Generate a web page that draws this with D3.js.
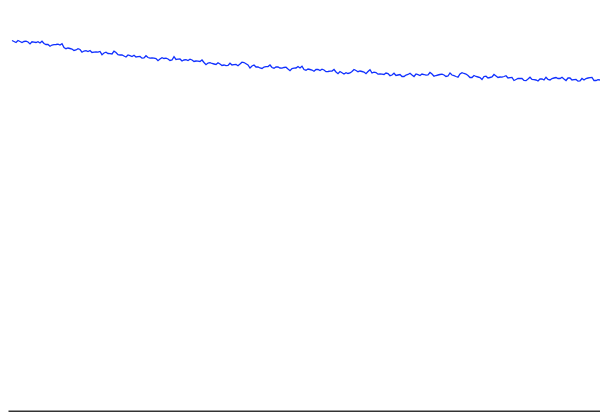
<!DOCTYPE html>
<html><head><meta charset="utf-8">
<script src="https://cdn.jsdelivr.net/npm/d3@7"></script>
<style>html,body{margin:0;padding:0;background:#fff;}svg{display:block;}</style>
</head><body>
<svg id="chart" width="600" height="414"></svg>
<script>
const values = [369.5,368.5,367.5,369.5,368.5,367.5,368.5,368.8,368,366.1,368.2,367.9,367.5,368.3,367,368.8,366.5,365.5,365.5,363.8,
365,365.3,365.5,365.8,365,366.3,362.5,361.3,362,361.5,361,359.5,360,361.3,360.5,357.8,359,359.3,358.5,359.5,
357.5,357.8,358,357.8,358.5,355.3,357,357.8,356.5,356.3,356,358.8,357.5,355.3,355,355,354,353,355,354.3,
353.5,354.8,353,353.3,353.5,351.8,352,354.3,352.5,351.8,352,351.8,351.5,349.3,351,352.3,351.5,351.8,351,349.5,
350,353.3,350.5,350.8,351,349,350,350.3,349.5,350.8,350,348.5,349,348.8,348.5,350,347.5,345.3,347,347.3,
346.5,346,345.5,347.3,346,344.5,345,344.3,344.5,346.8,345,345.3,345.5,344.3,346,347.8,347.5,346.3,345,342,
344,345,343,343,342,341.5,343,343.3,343.5,345,342.5,341.8,343,343,342,341.8,342.5,342.8,341,339.3,
341.5,341.8,342,343.5,342,343.8,340.5,339.8,341,340.5,340,338.8,340.5,340.5,339.5,340.8,340,338.3,338.5,338.8,
339,340.5,338,336.3,338.5,337.3,336,337.3,336.5,337,338.5,340.5,339.5,338.3,339,338.5,338,336.3,338.5,340.3,
337,337.8,337.5,335.8,336,335.8,335.5,337,336.5,334.3,335,336.8,334.5,335,335.5,333.5,333.5,335,335.5,336.8,
335,333.5,336,335.3,334.5,336,335.5,334.8,335,337.5,336,333.8,334.5,335,335.5,335.8,335,333.5,334,337,
335,334.3,333.5,332.8,336,337.3,336.5,336,334.5,332.5,332.5,334.5,333.5,333,332.5,330.5,333.5,333.8,332,332.5,
333,335.5,334,332.5,333,332.8,333.5,334.3,332,332.3,332.5,329.5,330.5,331.5,331.5,331.5,329.5,329.3,331,332.8,
330.5,330.3,330,329,331,331,330,332.8,330.5,330,331.5,332,332.5,331.5,331.5,332.8,331,329.5,332,332,
330,330.3,330.5,328.8,329,331.5,330,331.5,332,332.3,332.5,329.5,329.5,330.3,330];
const steps = d3.range(values.length);
const yDomain = [0, 400];

const svg = d3.select("#chart");
const x = d3.scaleLinear().domain([0, steps.length - 1]).range([12, 600]);
const y = d3.scaleLinear().domain(yDomain).range([410, 10]);
const xAxisScale = d3.scaleLinear().domain([0, steps.length - 1]).range([8, 600]);

svg.append("g")
  .attr("transform", "translate(0,410.75)")
  .call(d3.axisBottom(xAxisScale).ticks(0).tickSize(0).tickSizeOuter(0))
  .call(g => g.select(".domain").attr("stroke", "#333").attr("stroke-width", 1.5))
  .call(g => g.selectAll("text").remove());

svg.append("path")
  .datum(values)
  .attr("fill", "none")
  .attr("stroke", "#1030ff")
  .attr("stroke-width", 1.3)
  .attr("d", d3.line().x((d, i) => x(steps[i])).y(d => y(d)));
</script>
</body></html>
